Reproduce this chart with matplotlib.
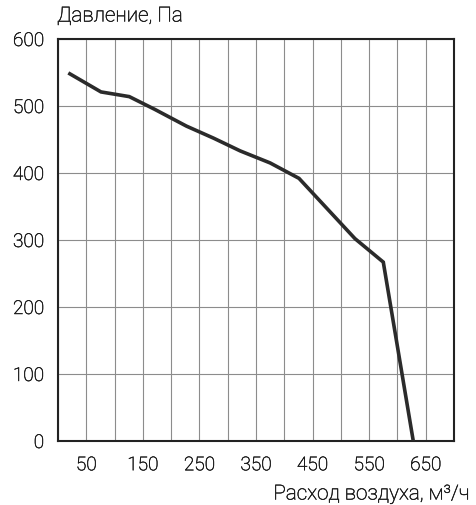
import matplotlib
matplotlib.use("Agg")
import matplotlib.pyplot as plt
import matplotlib.patheffects as pe
from matplotlib.ticker import MultipleLocator

flow = [21, 76, 126, 171, 227, 275, 322, 375, 426, 525, 575, 628]
pressure = [548, 521, 514, 495, 470, 452, 433, 415, 392, 302, 267, 0]
xticks = [50, 150, 250, 350, 450, 550, 650]
yticks = [0, 100, 200, 300, 400, 500, 600]

plt.rcParams['font.family'] = ['Roboto', 'DejaVu Sans']
plt.rcParams['font.weight'] = 'light'

thick = [pe.withStroke(linewidth=0.35, foreground='#1a1a1a')]

fig = plt.figure(figsize=(4.77, 5.05), dpi=100)
ax = fig.add_axes([58/477, 1-441/505, (454-58)/477, (441-39)/505])
ax.set_xlim(0, 700)
ax.set_ylim(0, 600)
ax.xaxis.set_minor_locator(MultipleLocator(50))
ax.set_xticks(xticks)
ax.set_yticks(yticks)
ax.grid(True, which='both', axis='x', color='#8c8c8c', lw=0.8)
ax.grid(True, which='major', axis='y', color='#8c8c8c', lw=0.8)
ax.set_axisbelow(True)
ax.plot(flow, pressure, color='#2b2b2b', lw=2.6, solid_joinstyle='miter', zorder=3)
for s in ax.spines.values():
    s.set_color('#222222')
    s.set_linewidth(1.5)
ax.tick_params(which='both', length=0, labelsize=13.7, colors='#1a1a1a')
ax.tick_params(axis='x', pad=11)
ax.tick_params(axis='y', pad=10)
for lab in ax.get_xticklabels() + ax.get_yticklabels():
    lab.set_fontweight('light')
    lab.set_path_effects(thick)
fig.text(57/477, 1-16/505, 'Давление, Па', fontsize=14.9, fontweight='light', color='#1a1a1a', va='center', ha='left', path_effects=thick)
fig.text(469/477, 1-494/505, 'Расход воздуха, м³/ч', fontsize=14.9, fontweight='light', color='#1a1a1a', va='center', ha='right', path_effects=thick)
fig.savefig('out.png', dpi=100)
